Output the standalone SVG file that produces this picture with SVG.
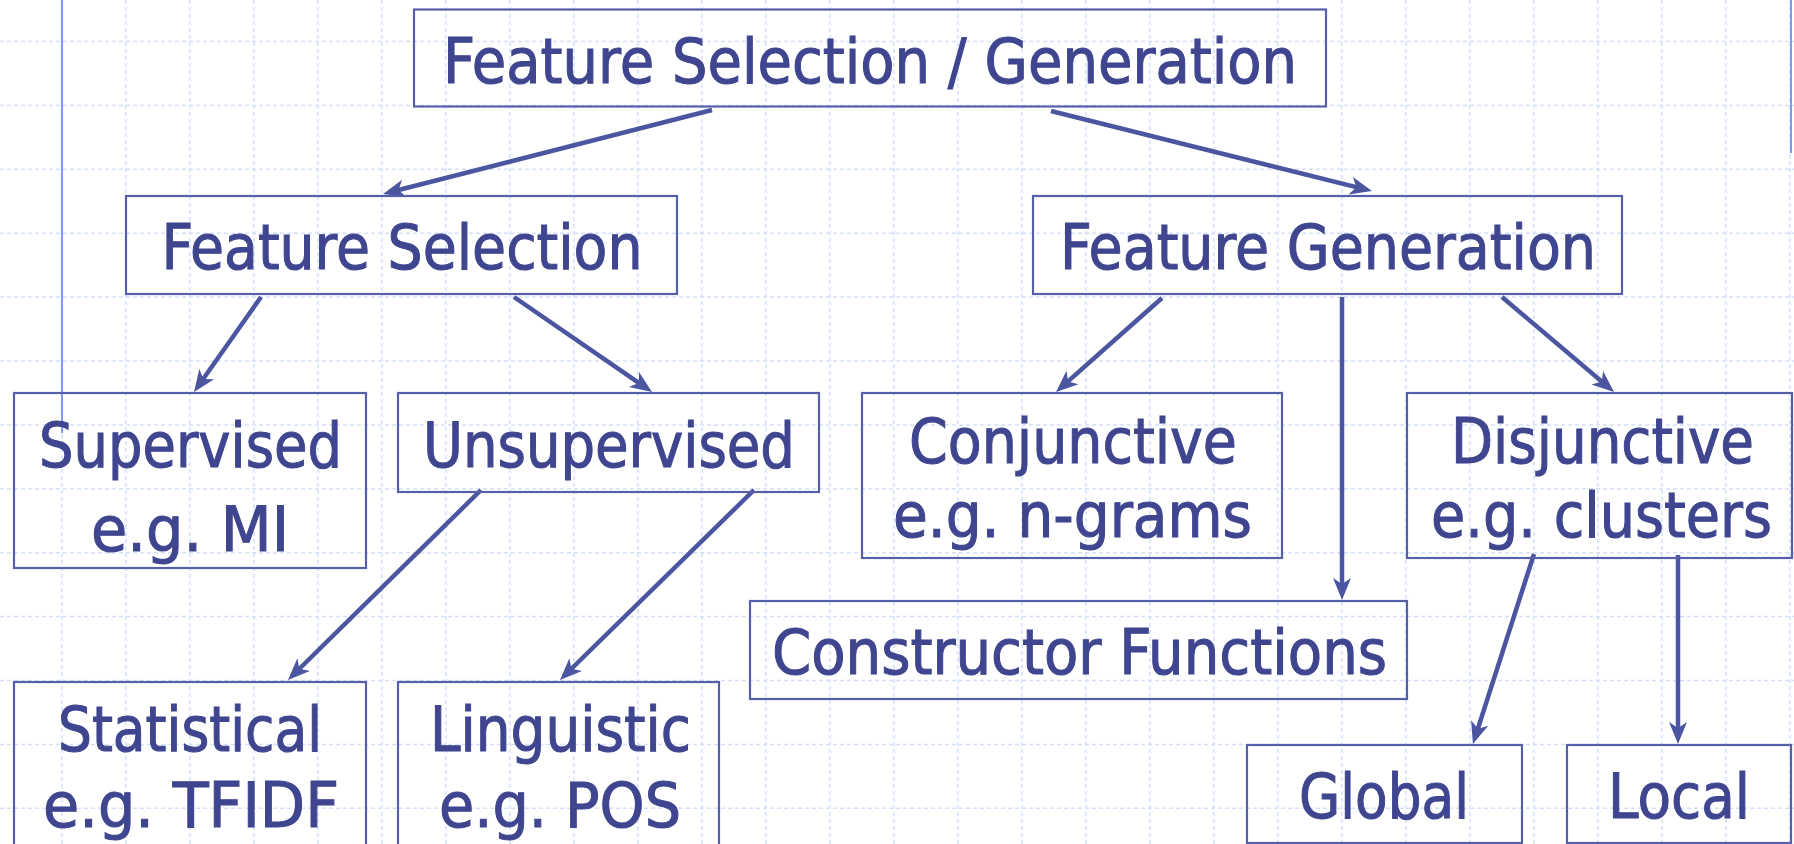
<svg xmlns="http://www.w3.org/2000/svg" width="1794" height="844" viewBox="0 0 1794 844">
  <style>
    .grid { stroke: #d4dffa; stroke-width: 1.5; stroke-dasharray: 4 3; fill: none; }
    .rule { stroke: #7d9cee; stroke-width: 2; }
    .box { fill: none; stroke: #5660a8; stroke-width: 2.2; }
    .lbl { font-family: "DejaVu Sans Condensed", "DejaVu Sans", sans-serif; font-size: 62px; fill: #3f458f; stroke: #3f458f; stroke-width: 1; text-anchor: middle; }
    .edge { stroke: #4b55a0; stroke-width: 4.5; fill: none; marker-end: url(#head); }
  </style>
  <defs>
    <marker id="head" markerUnits="userSpaceOnUse" markerWidth="30" markerHeight="24" viewBox="-12 -12 30 24" refX="0" refY="0" orient="auto">
      <path d="M10,0 L-12,-9 L-6,0 L-12,9 Z" fill="#4b55a0"/>
    </marker>
  </defs>

  <rect width="1794" height="844" fill="#ffffff"/>

  <!-- background grid -->
  <g id="grid">
    <path class="grid" d="M0,41.5H1794 M0,105.4H1794 M0,169.3H1794 M0,233.2H1794 M0,297.1H1794 M0,361H1794 M0,424.9H1794 M0,488.8H1794 M0,552.7H1794 M0,616.6H1794 M0,680.5H1794 M0,744.4H1794 M0,808.3H1794"/>
    <path class="grid" d="M62,0V844 M126,0V844 M190,0V844 M254,0V844 M318,0V844 M382,0V844 M446,0V844 M510,0V844 M574,0V844 M638,0V844 M702,0V844 M766,0V844 M830,0V844 M894,0V844 M958,0V844 M1022,0V844 M1086,0V844 M1150,0V844 M1214,0V844 M1278,0V844 M1342,0V844 M1406,0V844 M1470,0V844 M1534,0V844 M1598,0V844 M1662,0V844 M1726,0V844 M1790,0V844"/>
    <line class="rule" x1="62" y1="0" x2="62" y2="433"/>
    <line class="rule" x1="1791" y1="0" x2="1791" y2="153"/>
  </g>

  <!-- connectors -->
  <g id="connectors">
    <line class="edge" x1="712" y1="110" x2="392.7" y2="191.5"/>
    <line class="edge" x1="1051" y1="111" x2="1362.3" y2="188.6"/>
    <line class="edge" x1="261" y1="297" x2="199.8" y2="383.8"/>
    <line class="edge" x1="514" y1="297" x2="643.8" y2="386.3"/>
    <line class="edge" x1="1162" y1="298" x2="1063.5" y2="385.4"/>
    <line class="edge" x1="1342" y1="297" x2="1342" y2="590"/>
    <line class="edge" x1="1502" y1="297" x2="1606.4" y2="385.5"/>
    <line class="edge" x1="481" y1="490" x2="295.1" y2="673"/>
    <line class="edge" x1="754" y1="490" x2="567.1" y2="673"/>
    <line class="edge" x1="1534" y1="554" x2="1476" y2="734.5"/>
    <line class="edge" x1="1678" y1="555" x2="1678" y2="734"/>
  </g>

  <g id="root">
    <rect class="box" x="414" y="9.5" width="912" height="97"/>
    <text class="lbl" x="870" y="83" textLength="854" lengthAdjust="spacingAndGlyphs">Feature Selection / Generation</text>
  </g>
  <g id="selection">
    <rect class="box" x="126" y="196" width="551" height="98"/>
    <text class="lbl" x="402" y="269" textLength="481" lengthAdjust="spacingAndGlyphs">Feature Selection</text>
  </g>
  <g id="generation">
    <rect class="box" x="1033" y="196" width="589" height="98"/>
    <text class="lbl" x="1328" y="269" textLength="536" lengthAdjust="spacingAndGlyphs">Feature Generation</text>
  </g>
  <g id="supervised">
    <rect class="box" x="14" y="393" width="352" height="175"/>
    <text class="lbl" x="190.5" y="467" textLength="303" lengthAdjust="spacingAndGlyphs">Supervised</text>
    <text class="lbl" x="190" y="551" textLength="198" lengthAdjust="spacingAndGlyphs">e.g. MI</text>
  </g>
  <g id="unsupervised">
    <rect class="box" x="398" y="393" width="421" height="99"/>
    <text class="lbl" x="609" y="467" textLength="372" lengthAdjust="spacingAndGlyphs">Unsupervised</text>
  </g>
  <g id="conjunctive">
    <rect class="box" x="862" y="393" width="420" height="165"/>
    <text class="lbl" x="1073" y="463" textLength="328" lengthAdjust="spacingAndGlyphs">Conjunctive</text>
    <text class="lbl" x="1072.5" y="537" textLength="359" lengthAdjust="spacingAndGlyphs">e.g. n-grams</text>
  </g>
  <g id="disjunctive">
    <rect class="box" x="1407" y="393" width="385" height="165"/>
    <text class="lbl" x="1602.5" y="463" textLength="303" lengthAdjust="spacingAndGlyphs">Disjunctive</text>
    <text class="lbl" x="1601.5" y="537" textLength="341" lengthAdjust="spacingAndGlyphs">e.g. clusters</text>
  </g>
  <g id="constructor">
    <rect class="box" x="750" y="601" width="657" height="98"/>
    <text class="lbl" x="1079.5" y="674" textLength="615" lengthAdjust="spacingAndGlyphs">Constructor Functions</text>
  </g>
  <g id="statistical">
    <rect class="box" x="14" y="682" width="352" height="170"/>
    <text class="lbl" x="190" y="751" textLength="264" lengthAdjust="spacingAndGlyphs">Statistical</text>
    <text class="lbl" x="191" y="827" textLength="296" lengthAdjust="spacingAndGlyphs">e.g. TFIDF</text>
  </g>
  <g id="linguistic">
    <rect class="box" x="398" y="682" width="321" height="170"/>
    <text class="lbl" x="560.5" y="751" textLength="261" lengthAdjust="spacingAndGlyphs">Linguistic</text>
    <text class="lbl" x="560" y="827" textLength="242" lengthAdjust="spacingAndGlyphs">e.g. POS</text>
  </g>
  <g id="global">
    <rect class="box" x="1247" y="745" width="275" height="98"/>
    <text class="lbl" x="1384" y="818" textLength="170" lengthAdjust="spacingAndGlyphs">Global</text>
  </g>
  <g id="local">
    <rect class="box" x="1567" y="745" width="224" height="98"/>
    <text class="lbl" x="1679" y="818" textLength="142" lengthAdjust="spacingAndGlyphs">Local</text>
  </g>
</svg>
